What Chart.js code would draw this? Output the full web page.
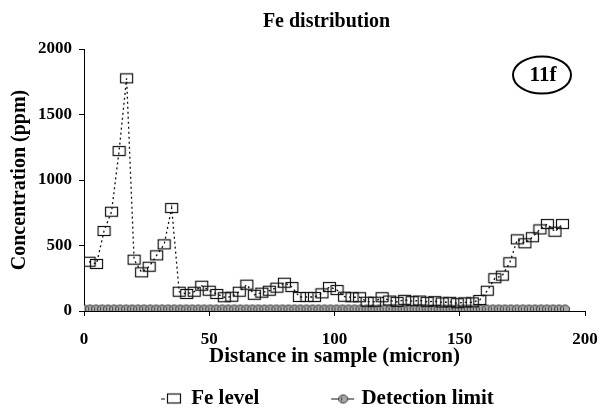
<!DOCTYPE html>
<html><head><meta charset="utf-8">
<script src="https://cdn.jsdelivr.net/npm/chart.js@4/dist/chart.umd.min.js"></script>
<style>html,body{margin:0;padding:0;background:#fff}#wrap{width:598px;height:409px;position:relative;background:#fff}</style>
</head><body><div id="wrap"><canvas id="c"></canvas></div>
<script>
// ---- data ----
const distance = [2,5,8,11,14,17,20,23,26,29,32,35,38,41,44,47,50,53,56,59,62,65,68,71,74,77,80,83,86,89,92,95,98,101,104,107,110,113,116,119,122,125,128,131,134,137,140,143,146,149,152,155,158,161,164,167,170,173,176,179,182,185,188,191];
const feLevel = [376,359,611,758,1221,1776,392,295,338,425,509,786,147,130,147,193,155,130,105,109,147,201,124,140,155,178,216,183,107,107,107,135,183,160,109,105,105,71,71,105,80,70,85,75,80,70,75,65,70,60,66,66,84,155,250,270,372,547,517,563,623,664,605,664];
const detectionDistance = [0,2.4,4.8,7.2,9.6,12,14.4,16.8,19.2,21.6,24,26.4,28.8,31.2,33.6,36,38.4,40.8,43.2,45.6,48,50.4,52.8,55.2,57.6,60,62.4,64.8,67.2,69.6,72,74.4,76.8,79.2,81.6,84,86.4,88.8,91.2,93.6,96,98.4,100.8,103.2,105.6,108,110.4,112.8,115.2,117.6,120,122.4,124.8,127.2,129.6,132,134.4,136.8,139.2,141.6,144,146.4,148.8,151.2,153.6,156,158.4,160.8,163.2,165.6,168,170.4,172.8,175.2,177.6,180,182.4,184.8,187.2,189.6,192];
const detectionLimit = [15,15,15,15,15,15,15,15,15,15,15,15,15,15,15,15,15,15,15,15,15,15,15,15,15,15,15,15,15,15,15,15,15,15,15,15,15,15,15,15,15,15,15,15,15,15,15,15,15,15,15,15,15,15,15,15,15,15,15,15,15,15,15,15,15,15,15,15,15,15,15,15,15,15,15,15,15,15,15,15,15];
const xTickValues = [0,50,100,150,200];
const yTickValues = [0,500,1000,1500,2000];
const seriesNames = ['Fe level','Detection limit'];
const chartTitle = 'Fe distribution';
const xTitle = 'Distance in sample (micron)';
const yTitle = 'Concentration (ppm)';
const panelTag = '11f';

const SERIF = "'Liberation Serif','Times New Roman',serif";

function mk(w,h,draw){const c=document.createElement('canvas');c.width=w;c.height=h;draw(c.getContext('2d'));return c;}
const rectMarker = mk(15,12,g=>{g.strokeStyle='#111';g.lineWidth=1.2;g.strokeRect(1.5,1.5,12,9);});
function circ(g,x,y){g.beginPath();g.ellipse(x,y,4.6,4,0,0,Math.PI*2);g.fillStyle='#a9a9a9';g.fill();g.strokeStyle='#333';g.lineWidth=1;g.stroke();
  g.beginPath();g.moveTo(x-1.5,y-2);g.lineTo(x-1.5,y+2);g.strokeStyle='#444';g.stroke();}
const circleMarker = mk(12,11,g=>circ(g,6,5.5));
const legendFe = mk(200,16,g=>{g.strokeStyle='#111';g.lineWidth=1;g.beginPath();g.moveTo(125,8.5);g.lineTo(129,8.5);g.stroke();
  g.lineWidth=1.2;g.strokeRect(131.5,3.5,13,9);});
const legendDet = mk(200,16,g=>{g.strokeStyle='#111';g.lineWidth=1;g.beginPath();g.moveTo(125,8.5);g.lineTo(148,8.5);g.stroke();circ(g,137,8.5);});

const xy = (xs,ys)=>xs.map((x,i)=>({x:x,y:ys[i]}));

const tagPlugin = {
  id:'tag',
  afterLayout(chart){
    const tb = chart.titleBlock; const ca = chart.chartArea;
    if (tb){ const target = (ca.left+ca.right)/2 - 8; const dx = target - (tb.left+tb.right)/2; tb.left+=dx; tb.right+=dx; }
    const lg = chart.legend;
    if (lg){ const dx = 292.5 - (lg.left+lg.right)/2; lg.left+=dx; lg.right+=dx; }
  },
  afterDraw(chart){
    const ca = chart.chartArea, g = chart.ctx;
    const cx = ca.right - 43, cy = ca.top + 26;
    g.save();
    g.beginPath(); g.ellipse(cx,cy,29,18.5,0,0,Math.PI*2); g.lineWidth=2; g.strokeStyle='#000'; g.stroke();
    g.fillStyle='#000'; g.font='bold 21px '+SERIF; g.textAlign='center'; g.textBaseline='middle';
    g.fillText(panelTag,cx+1,cy+1);
    g.restore();
  }
};

new Chart(document.getElementById('c'), {
  type:'line',
  data:{datasets:[
    {label:seriesNames[0], data:xy(distance,feLevel), borderColor:'#111', borderWidth:1.3, borderDash:[2,3], pointStyle:rectMarker, pointRadius:6, fill:false, tension:0},
    {label:seriesNames[1], data:xy(detectionDistance,detectionLimit), borderColor:'#222', borderWidth:1, pointStyle:circleMarker, pointRadius:5, fill:false, tension:0}
  ]},
  options:{
    responsive:true, maintainAspectRatio:false, animation:false,
    layout:{padding:{left:0,right:0,top:0,bottom:-10}},
    plugins:{
      title:{display:true,text:chartTitle,color:'#000',font:{family:SERIF,size:20,weight:'bold'},padding:{top:10,bottom:15}},
      legend:{position:'bottom',labels:{usePointStyle:true,pointStyleWidth:89.5,padding:2,color:'#000',font:{family:SERIF,size:21,weight:'bold'},
        generateLabels:(chart)=>seriesNames.map((n,i)=>({text:n,fillStyle:'transparent',strokeStyle:'transparent',lineWidth:0,pointStyle:i===0?legendFe:legendDet,hidden:false,datasetIndex:i,fontColor:'#000'}))}},
      tooltip:{enabled:false}
    },
    scales:{
      x:{type:'linear',min:0,max:200,
        afterBuildTicks:s=>{s.ticks=xTickValues.map(v=>({value:v}));},
        afterFit:s=>{s.height=75;s.paddingRight=13;s.paddingLeft=0;},
        border:{display:true,color:'#000',width:1},
        grid:{display:true,drawOnChartArea:false,drawTicks:true,tickLength:5,color:'#000'},
        ticks:{color:'#000',padding:13,maxRotation:0,font:{family:SERIF,size:17,weight:'bold'},callback:v=>String(v)},
        title:{display:true,text:xTitle,color:'#000',font:{family:SERIF,size:21,weight:'bold'},padding:{top:0,bottom:17}}
      },
      y:{type:'linear',min:0,max:2000,
        afterBuildTicks:s=>{s.ticks=yTickValues.map(v=>({value:v}));},
        afterFit:s=>{s.width=84;},
        border:{display:true,color:'#000',width:1},
        grid:{display:true,drawOnChartArea:false,drawTicks:true,tickLength:5,color:'#000'},
        ticks:{color:'#000',padding:7,font:{family:SERIF,size:17,weight:'bold'},callback:v=>String(v)},
        title:{display:true,text:yTitle,color:'#000',font:{family:SERIF,size:20,weight:'bold'},padding:{top:8,bottom:0}}
      }
    }
  },
  plugins:[tagPlugin]
});
</script></body></html>
